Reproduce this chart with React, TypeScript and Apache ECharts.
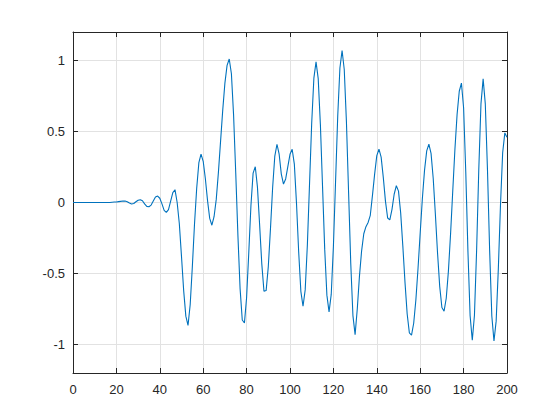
import React, { useEffect, useRef } from "react";
import * as echarts from "echarts";

// y values sampled at x = 0, 1, 2, ..., 200
const yValues: number[] = [
  0, 0, 0, 0, 0, 0, 0, 0, 0, 0, 0, 0, 0, 0, 0, 0, 0, 0,
  0.002, 0.003, 0.004, 0.006, 0.008, 0.01, 0.01, 0.005, -0.004, -0.01,
  -0.007, 0.005, 0.016, 0.02, 0.012, -0.01, -0.027, -0.03, -0.018, 0.01,
  0.038, 0.045, 0.03, -0.01, -0.055, -0.07, -0.05, 0.01, 0.07, 0.09,
  0.0, -0.15, -0.38, -0.62, -0.8, -0.865, -0.72, -0.45, -0.15, 0.1,
  0.28, 0.34, 0.29, 0.167, 0.013, -0.112, -0.16, -0.1, 0.02, 0.21,
  0.43, 0.65, 0.84, 0.965, 1.01, 0.906, 0.616, 0.206, -0.233, -0.606,
  -0.827, -0.848, -0.669, -0.354, -0.021, 0.207, 0.252, 0.108, -0.156, -0.432,
  -0.625, -0.62, -0.451, -0.184, 0.106, 0.327, 0.41, 0.34, 0.2, 0.13,
  0.166, 0.2525, 0.339, 0.375, 0.27, -0.007, -0.348, -0.625, -0.73, -0.615,
  -0.3, 0.13, 0.56, 0.875, 0.99, 0.872, 0.55, 0.11, -0.33, -0.652,
  -0.77, -0.647, -0.31, 0.15, 0.61, 0.947, 1.07, 0.936, 0.57, 0.07,
  -0.43, -0.796, -0.93, -0.75, -0.52, -0.34, -0.22, -0.17, -0.14, -0.09,
  0.05, 0.2, 0.33, 0.375, 0.319, 0.175, 0.008, -0.109, -0.122, -0.048,
  0.058, 0.118, 0.08, -0.073, -0.307, -0.564, -0.785, -0.917, -0.933, -0.85,
  -0.686, -0.463, -0.214, 0.028, 0.228, 0.363, 0.41, 0.346, 0.169, -0.084,
  -0.357, -0.592, -0.739, -0.765, -0.674, -0.483, -0.219, 0.081, 0.375, 0.62,
  0.783, 0.84, 0.667, 0.215, -0.345, -0.797, -0.97, -0.794, -0.334, 0.234,
  0.694, 0.87, 0.694, 0.232, -0.337, -0.799, -0.975, -0.835, -0.469, -0.016,
  0.35, 0.49, 0.46,
];

const xTicks = [0, 20, 40, 60, 80, 100, 120, 140, 160, 180, 200];
const yTicks = [-1, -0.5, 0, 0.5, 1];

export default function App() {
  const ref = useRef<HTMLDivElement>(null);

  useEffect(() => {
    if (!ref.current) return;
    const chart = echarts.init(ref.current, null, { renderer: "svg" });
    const data = yValues.map((y, i) => [i, y]);
    const axisColor = "#262626";
    const gridColor = "#e2e2e2";
    const font = "Arial, 'Liberation Sans', Helvetica, sans-serif";

    const axisLine = { show: true, onZero: false, lineStyle: { color: axisColor, width: 1 } };
    const tick = (vals: number[]) => ({
      show: true,
      inside: true,
      length: 5,
      customValues: vals,
      lineStyle: { color: axisColor, width: 1 },
    });

    chart.setOption({
      animation: false,
      backgroundColor: "#ffffff",
      grid: { left: 73, right: 53, top: 32, bottom: 47 },
      xAxis: [
        {
          type: "value",
          min: 0,
          max: 200,
          interval: 20,
          position: "bottom",
          axisLine,
          axisTick: tick(xTicks),
          axisLabel: {
            customValues: xTicks,
            color: axisColor,
            fontSize: 13,
            fontFamily: font,
            margin: 10,
          },
          splitLine: { show: true, lineStyle: { color: gridColor, width: 1 } },
        },
        {
          type: "value",
          min: 0,
          max: 200,
          interval: 20,
          position: "top",
          axisLine,
          axisTick: tick(xTicks),
          axisLabel: { show: false },
          splitLine: { show: false },
        },
      ],
      yAxis: [
        {
          type: "value",
          min: -1.2,
          max: 1.2,
          position: "left",
          axisLine,
          axisTick: tick(yTicks),
          axisLabel: {
            customValues: yTicks,
            color: axisColor,
            fontSize: 13,
            fontFamily: font,
            margin: 8,
          },
          splitLine: { show: true, lineStyle: { color: gridColor, width: 1 } },
        },
        {
          type: "value",
          min: -1.2,
          max: 1.2,
          position: "right",
          axisLine,
          axisTick: tick(yTicks),
          axisLabel: { show: false },
          splitLine: { show: false },
        },
      ],
      series: [
        {
          type: "line",
          data,
          xAxisIndex: 0,
          yAxisIndex: 0,
          symbol: "none",
          showSymbol: false,
          lineStyle: { color: "#0072BD", width: 1.1 },
          z: 5,
        },
      ],
    });

    return () => {
      chart.dispose();
    };
  }, []);

  return (
    <div
      ref={ref}
      style={{ position: "absolute", left: 0, top: 0, width: 560, height: 420 }}
    />
  );
}
